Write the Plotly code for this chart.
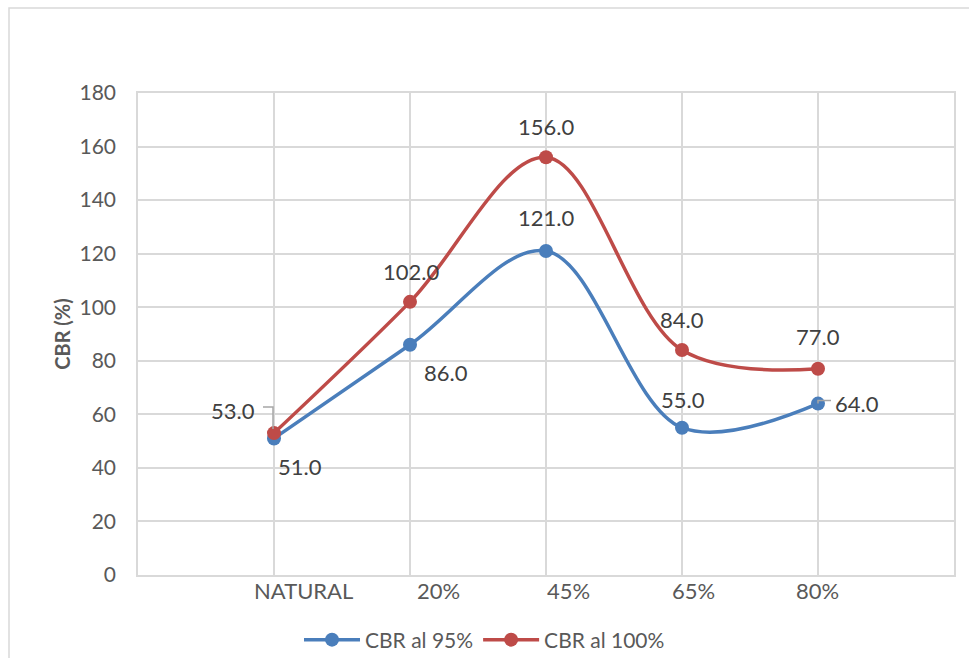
import plotly.graph_objects as go

# Mixture categories and CBR results
categories = ["NATURAL", "20%", "45%", "65%", "80%"]
cbr_95 = [51.0, 86.0, 121.0, 55.0, 64.0]
cbr_100 = [53.0, 102.0, 156.0, 84.0, 77.0]
y_ticks = [0, 20, 40, 60, 80, 100, 120, 140, 160, 180]

# Label offsets (pixels) for each point's value text
off_95 = [(26, -28), (36, -28), (0, 33), (1, 28), (39, 0)]
off_100 = [(-41, 23), (1, 30), (0, 31), (0, 31), (0, 32)]
# Horizontal nudges of the category labels
cat_shift = [29, 28, 22, 11, -1]

BLUE = "#4A7EBB"
RED = "#BE4B48"
GRID = "#D9D9D9"
TXT = "#595959"
FONT = "Lato"

W, H = 969, 658
L, R, T, B = 138, 15, 93, 83
PW, PH = W - L - R, H - T - B

fig = go.Figure()
fig.add_trace(go.Scatter(
    x=categories, y=cbr_95, name="CBR al 95%", mode="lines+markers",
    line=dict(color=BLUE, width=3.5, shape="spline", smoothing=1.0),
    marker=dict(size=14, color=BLUE),
))
fig.add_trace(go.Scatter(
    x=categories, y=cbr_100, name="CBR al 100%", mode="lines+markers",
    line=dict(color=RED, width=3.5, shape="spline", smoothing=1.0),
    marker=dict(size=14, color=RED),
))

annotations = []
for vals, offs in ((cbr_95, off_95), (cbr_100, off_100)):
    for c, v, (dx, dy) in zip(categories, vals, offs):
        annotations.append(dict(
            x=c, y=v, xref="x", yref="y", text=f"{v:.1f}", showarrow=False,
            xshift=dx, yshift=dy, font=dict(family=FONT, size=22, color="#404040"),
        ))

# Category labels under the axis
for c, dx in zip(categories, cat_shift):
    annotations.append(dict(
        x=c, y=0, xref="x", yref="paper", text=c, showarrow=False,
        xshift=dx, yshift=-15, yanchor="middle",
        font=dict(family=FONT, size=22, color=TXT),
    ))

shapes = [
    # chart outer border
    dict(type="rect", xref="paper", yref="paper",
         x0=(9 - L) / PW, x1=(W + 10 - L) / PW,
         y0=(H - B - (H + 10)) / PH, y1=(H - B - 8) / PH,
         line=dict(color=GRID, width=1.5), fillcolor="rgba(0,0,0,0)", layer="below"),
    # leader line for the first 100% label
    dict(type="path", xref="x", yref="y", xsizemode="pixel", ysizemode="pixel",
         xanchor=categories[0], yanchor=cbr_100[0],
         path="M-11,26 L-1,26 L-1,4", line=dict(color="#A6A6A6", width=1.5)),
    # leader line for the last 95% label
    dict(type="path", xref="x", yref="y", xsizemode="pixel", ysizemode="pixel",
         xanchor=categories[-1], yanchor=cbr_95[-1],
         path="M0,0 L0,3 L13,3", line=dict(color="#A6A6A6", width=1.5)),
]

fig.update_layout(
    width=W, height=H,
    margin=dict(l=L, r=R, t=T, b=B),
    paper_bgcolor="white", plot_bgcolor="white",
    font=dict(family=FONT, color=TXT),
    showlegend=True,
    legend=dict(orientation="h", x=0.5, xref="container",
                xanchor="center", yref="container", y=1 - 640 / H, yanchor="middle",
                font=dict(family=FONT, size=21, color=TXT), itemwidth=56,
                tracegroupgap=0),
    annotations=annotations,
    shapes=shapes,
)
fig.update_xaxes(
    type="category", range=[-1, len(categories)],
    showgrid=True, gridcolor=GRID, gridwidth=1.5,
    showline=True, linecolor=GRID, linewidth=1.5, mirror=True,
    ticks="", showticklabels=False, zeroline=False,
)
fig.update_yaxes(
    range=[0, 180], tickvals=y_ticks,
    showgrid=True, gridcolor=GRID, gridwidth=1.5,
    showline=True, linecolor=GRID, linewidth=1.5, mirror=True,
    ticks="", tickfont=dict(family=FONT, size=21, color=TXT),
    ticklabelstandoff=16, zeroline=False,
    title=dict(text="<b>CBR (%)</b>", standoff=4,
               font=dict(family=FONT, size=20, color=TXT)),
)

fig.write_html("out.html")
